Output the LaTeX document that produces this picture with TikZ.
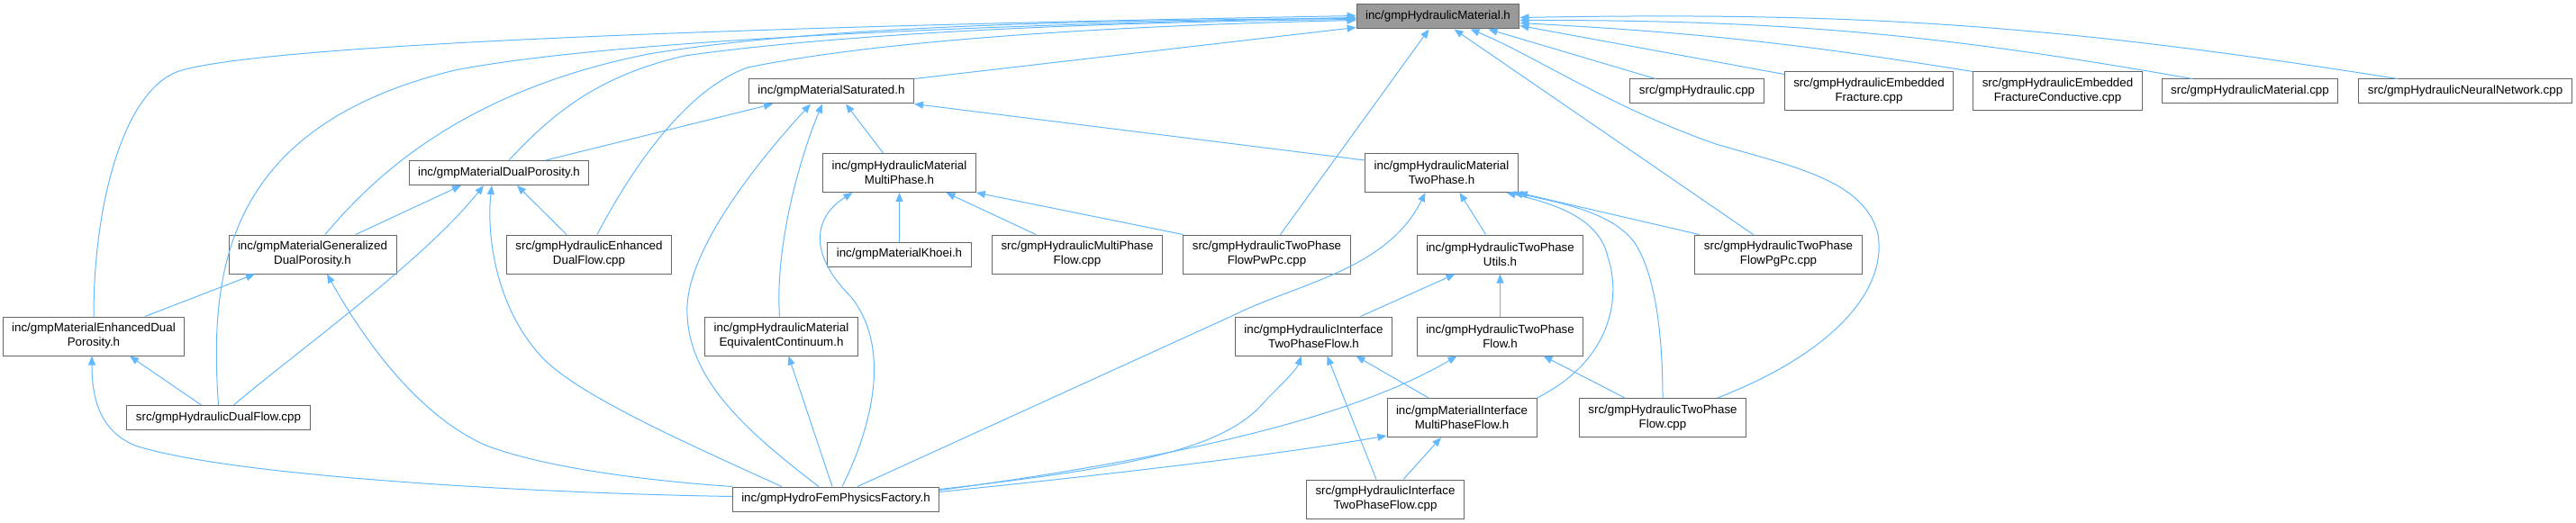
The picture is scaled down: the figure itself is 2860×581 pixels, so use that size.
\documentclass[tikz,border=0pt]{standalone}
\usepackage{fontspec}
\setmainfont{Liberation Sans}
\usetikzlibrary{arrows.meta,calc}
\definecolor{edgeblue}{HTML}{63B8FF}
\definecolor{boxline}{HTML}{666666}
\definecolor{rootfill}{HTML}{999999}

\begin{document}
\begin{tikzpicture}[x=0.75pt,y=-0.75pt,
    filebox/.style={draw=boxline,line width=0.75pt,fill=white,align=center,
      font=\fontsize{10}{12}\selectfont,inner xsep=7.5pt,inner ysep=2pt,minimum height=20.25pt},
    twoline/.style={filebox,minimum height=32.25pt},
    incl/.style={draw=edgeblue,line width=0.75pt,-{Triangle[length=7.5pt,width=6pt]}}]
  \useasboundingbox (0,0) rectangle (2860,581);

  % files
  \node[filebox,fill=rootfill] (hm) at (1596.5,18.5) {inc/gmpHydraulicMaterial.h};
  \node[filebox] (sat)  at (923,101.5)  {inc/gmpMaterialSaturated.h};
  \node[filebox] (hyd)  at (1884,101.5) {src/gmpHydraulic.cpp};
  \node[twoline] (embf) at (2075,101.5) {src/gmpHydraulicEmbedded\\Fracture.cpp};
  \node[twoline] (embc) at (2284.5,101.5) {src/gmpHydraulicEmbedded\\FractureConductive.cpp};
  \node[filebox] (hmc)  at (2498,101.5) {src/gmpHydraulicMaterial.cpp};
  \node[filebox] (nn)   at (2737,101.5) {src/gmpHydraulicNeuralNetwork.cpp};

  \node[filebox] (dp)   at (554,192)    {inc/gmpMaterialDualPorosity.h};
  \node[twoline] (mp)   at (998.5,192)  {inc/gmpHydraulicMaterial\\MultiPhase.h};
  \node[twoline] (tp)   at (1600.5,192) {inc/gmpHydraulicMaterial\\TwoPhase.h};

  \node[twoline] (gdp)  at (347,282.5)  {inc/gmpMaterialGeneralized\\DualPorosity.h};
  \node[twoline] (edf)  at (654,282.5)  {src/gmpHydraulicEnhanced\\DualFlow.cpp};
  \node[filebox] (kh)   at (998.5,282.5) {inc/gmpMaterialKhoei.h};
  \node[twoline] (mpf)  at (1196,282.5) {src/gmpHydraulicMultiPhase\\Flow.cpp};
  \node[twoline] (pwpc) at (1406.5,282.5) {src/gmpHydraulicTwoPhase\\FlowPwPc.cpp};
  \node[twoline] (utl)  at (1665.5,282.5) {inc/gmpHydraulicTwoPhase\\Utils.h};
  \node[twoline] (pgpc) at (1974.5,282.5) {src/gmpHydraulicTwoPhase\\FlowPgPc.cpp};

  \node[twoline] (edp)  at (104,373.5)  {inc/gmpMaterialEnhancedDual\\Porosity.h};
  \node[twoline] (eqc)  at (867.5,373.5) {inc/gmpHydraulicMaterial\\EquivalentContinuum.h};
  \node[twoline] (itpfh) at (1458.5,373.5) {inc/gmpHydraulicInterface\\TwoPhaseFlow.h};
  \node[twoline] (tpfh) at (1665.5,373.5) {inc/gmpHydraulicTwoPhase\\Flow.h};

  \node[filebox] (df)   at (242.5,464)  {src/gmpHydraulicDualFlow.cpp};
  \node[twoline] (mimpf) at (1623,464)  {inc/gmpMaterialInterface\\MultiPhaseFlow.h};
  \node[twoline] (tpfc) at (1846,464)   {src/gmpHydraulicTwoPhase\\Flow.cpp};

  \node[filebox] (fac)  at (928,554.5)  {inc/gmpHydroFemPhysicsFactory.h};
  \node[twoline] (itpfc) at (1538,554.5) {src/gmpHydraulicInterface\\TwoPhaseFlow.cpp};

  % includes of the material header
  \draw[incl] (edp.north) .. controls (104,220) and (140,95) .. (202,78)
    .. controls (300,50) and (800,30) .. ($(hm.west)+(0,-1)$);
  \draw[incl] (df.north) .. controls (232,300) and (250,140) .. (505,78)
    .. controls (700,40) and (1200,25) .. ($(hm.west)+(0,1)$);
  \draw[incl] ($(gdp.north)+(14,0)$) .. controls (420,190) and (520,100) .. (720,60)
    .. controls (900,30) and (1200,22) .. ($(hm.west)+(0,2)$);
  \draw[incl] ($(dp.north)+(11,0)$) .. controls (610,130) and (660,85) .. (760,62)
    .. controls (950,35) and (1250,24) .. ($(hm.west)+(0,3)$);
  \draw[incl] ($(edf.north)+(9,0)$) .. controls (700,190) and (760,100) .. (830,75)
    .. controls (1000,40) and (1300,27) .. ($(hm.west)+(0,4)$);
  \draw[incl] (sat.north east) -- ($(hm.south west)+(0,-2)$);
  \draw[incl] ($(pwpc.north)+(15,0)$) -- ($(hm.south)+(-10,0)$);
  \draw[incl] ($(pgpc.north)+(-28,0)$) -- ($(hm.south)+(18,0)$);
  \draw[incl] ($(tpfc.north)+(61,0)$) .. controls (2040,390) and (2095,320) .. (2085,260)
    .. controls (2070,200) and (1990,185) .. (1905,160)
    .. controls (1790,120) and (1700,60) .. ($(hm.south)+(36,0)$);
  \draw[incl] ($(hyd.north)+(-46,0)$) -- ($(hm.south)+(56,0)$);
  \draw[incl] ($(embf.north west)+(0,3)$) -- ($(hm.east)+(0,10)$);
  \draw[incl] (embc.north west) to[bend right=3] ($(hm.east)+(0,7)$);
  \draw[incl] ($(hmc.north)+(-64,0)$) to[bend right=5] ($(hm.east)+(0,4)$);
  \draw[incl] ($(nn.north)+(-75,0)$) to[bend right=5] ($(hm.east)+(0,1)$);

  % saturated
  \draw[incl] ($(dp.north)+(52,0)$) -- ($(sat.south)+(-65,0)$);
  \draw[incl] ($(fac.north)+(-19,0)$) .. controls (830,480) and (760,420) .. (763,340)
    .. controls (766,270) and (850,170) .. ($(sat.south)+(-23,0)$);
  \draw[incl] ($(eqc.north)+(-2,0)$) .. controls (860,270) and (890,170) .. ($(sat.south)+(-10,0)$);
  \draw[incl] ($(mp.north)+(-18,0)$) -- ($(sat.south)+(16,0)$);
  \draw[incl] ($(tp.north west)+(0,8)$) -- (sat.south east);

  % dual porosity
  \draw[incl] ($(gdp.north)+(48,0)$) -- ($(dp.south)+(-42,0)$);
  \draw[incl] ($(df.north)+(17,0)$) .. controls (330,390) and (470,290) .. ($(dp.south)+(-17,0)$);
  \draw[incl] ($(fac.north west)+(55,0)$) .. controls (780,500) and (640,440) .. (600,395)
    .. controls (550,340) and (540,260) .. ($(dp.south)+(-8,0)$);
  \draw[incl] ($(edf.north)+(-25,0)$) -- ($(dp.south)+(20,0)$);

  % generalized and enhanced dual porosity
  \draw[incl] ($(edp.north)+(57,0)$) -- ($(gdp.south)+(-64,0)$);
  \draw[incl] (fac.north west) .. controls (760,537) and (620,525) .. (540,495)
    .. controls (460,460) and (400,370) .. ($(gdp.south)+(16,0)$);
  \draw[incl] ($(df.north)+(-19,0)$) -- ($(edp.south)+(40,0)$);
  \draw[incl] ($(fac.west)+(0,-3)$) .. controls (600,548) and (260,530) .. (150,495)
    .. controls (115,480) and (102,450) .. ($(edp.south)+(-2,0)$);

  % multiphase and equivalent continuum
  \draw[incl] ($(fac.north)+(7,0)$) .. controls (975,460) and (985,380) .. (945,330)
    .. controls (895,280) and (905,240) .. ($(mp.south)+(-52,0)$);
  \draw[incl] (kh) -- (mp);
  \draw[incl] ($(mpf.north)+(-46,0)$) -- ($(mp.south)+(52,0)$);
  \draw[incl] (pwpc.north west) -- (mp.south east);
  \draw[incl] ($(fac.north)+(-4,0)$) -- ($(eqc.south)+(8,0)$);

  % two phase
  \draw[incl] ($(fac.north)+(24,0)$) -- (1370,350) .. controls (1440,315) and (1540,300) .. ($(tp.south)+(-18,0)$);
  \draw[incl] ($(utl.north)+(-16,0)$) -- ($(tp.south)+(20,0)$);
  \draw[incl] (mimpf.north east) .. controls (1790,400) and (1800,330) .. (1785,285)
    .. controls (1775,240) and (1720,225) .. ($(tp.south)+(72,0)$);
  \draw[incl] (tpfc.north) .. controls (1846,360) and (1835,300) .. (1815,270)
    .. controls (1790,235) and (1730,225) .. ($(tp.south)+(80,0)$);
  \draw[incl] ($(pgpc.north west)+(5,0)$) -- (tp.south east);

  % utils and flow headers
  \draw[incl] ($(itpfh.north)+(52,0)$) -- ($(utl.south)+(-50,0)$);
  \draw[incl] (tpfh) -- (utl);
  \draw[incl] ($(fac.east)+(0,-11)$) .. controls (1250,520) and (1360,500) .. (1405,445)
    .. controls (1425,425) and (1440,410) .. ($(itpfh.south)+(-14,0)$);
  \draw[incl] ($(mimpf.north)+(-37,0)$) -- ($(itpfh.south)+(47,0)$);
  \draw[incl] ($(itpfc.north)+(-10,0)$) -- ($(itpfh.south)+(15,0)$);
  \draw[incl] ($(fac.east)+(0,-10)$) .. controls (1300,510) and (1500,465) .. ($(tpfh.south)+(-48,0)$);
  \draw[incl] ($(tpfc.north)+(-42,0)$) -- ($(tpfh.south)+(48,0)$);
  \draw[incl] ($(fac.east)+(0,-8)$) .. controls (1250,525) and (1420,505) .. ($(mimpf.south west)+(0,-2)$);
  \draw[incl] ($(itpfc.north)+(20,0)$) -- ($(mimpf.south)+(-23,0)$);
\end{tikzpicture}
\end{document}
